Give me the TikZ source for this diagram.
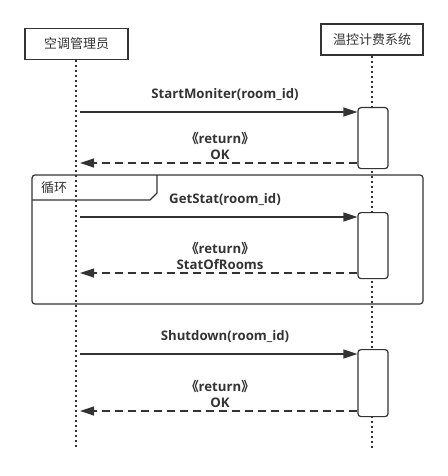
\documentclass[tikz,border=0pt]{standalone}
\usepackage{fontspec}
\setmainfont{Open Sans}
\newfontfamily\cjk{Noto Sans CJK SC}
\usetikzlibrary{arrows.meta}
\definecolor{ink}{HTML}{333333}
\tikzset{
	actor/.style={
		draw,
		line width = 1.2pt,
		minimum height = 31pt,
		inner sep = 0pt,
		font = \cjk\fontsize{13pt}{15pt}\selectfont
	},
	act/.style={
		draw,
		fill = white,
		rounded corners = 3pt,
		line width = 1.2pt,
		minimum width = 30pt,
		inner sep = 0pt
	},
	lifeline/.style={
		line width = 1.5pt,
		dash pattern = on 2pt off 3pt
	},
	call/.style={
		line width = 1.2pt,
		-{Triangle[length=14pt,width=9pt]}
	},
	ret/.style={
		line width = 1.2pt,
		dash pattern = on 8pt off 5pt,
		-{Triangle[length=14pt,width=9pt]}
	},
	msg/.style={
		font = \bfseries\fontsize{13.2pt}{16pt}\selectfont,
		inner sep = 0pt,
		align = center
	},
}

\begin{document}
\begin{tikzpicture}[x=1pt, y=-1pt, color=ink]
    \useasboundingbox (0,0) rectangle (447,476);
    \node[actor, minimum width=103pt] (admin) at (76.5,44) {空调管理员};
    \node[actor, minimum width=102pt] (sys) at (372,39.5) {温控计费系统};
    \coordinate (adminend) at (76,447);
    \coordinate (sysend) at (372,449);
    \draw[lifeline] (admin.south -| adminend) -- (adminend);
    \draw[lifeline] (sys.south) -- (sysend);
    % loop frame
    \draw[line width=1.2pt, rounded corners=3pt] (32,175) rectangle (423,304);
    \draw[line width=1.2pt] (32,200) -- (150,200) -- (157,193) -- (157,175);
    \node[font=\cjk\fontsize{13pt}{15pt}\selectfont] (loop) at (54,188) {循环};
    \foreach \t/\b/\n/\call/\res in {107/168/1/StartMoniter(room\_id)/OK,
        212/278/2/GetStat(room\_id)/StatOfRooms,
        349/416/3/Shutdown(room\_id)/OK}{
      \node[act, anchor=north, minimum height={\b-\t}] (a\n) at (373,\t) {};
      \coordinate (s\n) at (80,\t+5);
      \coordinate (r\n) at (80,\b-5);
      \draw[call] (s\n) -- (a\n.west |- s\n);
      \draw[ret] (a\n.west |- r\n) -- (r\n);
      \node[msg] (c\n) at (225,\t-12) {\call};
      \node[msg] (o\n) at (220,\b-22) {{\cjk 《}return{\cjk 》}\\\res};
    }
  \end{tikzpicture}
\end{document}
